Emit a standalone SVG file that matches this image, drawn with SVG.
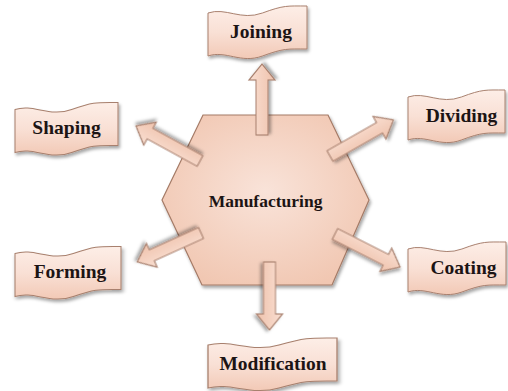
<svg xmlns="http://www.w3.org/2000/svg" width="508" height="391" viewBox="0 0 508 391">
  <defs>
    <linearGradient id="bannerFill" x1="0" y1="0" x2="0" y2="1">
      <stop offset="0" stop-color="#fdeee7"/>
      <stop offset="0.5" stop-color="#f9e0d5"/>
      <stop offset="1" stop-color="#f2c9b6"/>
    </linearGradient>
    <radialGradient id="hexFill" cx="0.5" cy="0.45" r="0.6">
      <stop offset="0" stop-color="#f9e3d9"/>
      <stop offset="1" stop-color="#f1c7b2"/>
    </radialGradient>
    <linearGradient id="arrowFill" x1="0" y1="0" x2="0" y2="1">
      <stop offset="0" stop-color="#f9dfd2"/>
      <stop offset="1" stop-color="#efc2ac"/>
    </linearGradient>
    <filter id="shadow" x="-20%" y="-20%" width="140%" height="150%">
      <feDropShadow dx="1.5" dy="2.5" stdDeviation="1.8" flood-color="#000" flood-opacity="0.35"/>
    </filter>
    <!-- wavy banner outline in a 100 x 43 box; scaled horizontally per node -->
    <path id="wave" d="M0,7 C18,1 33,15 55,7 S80,0 100,0 L100,43 C80,43 77,42 55,50 C33,58 18,44 0,50 Z"/>
  </defs>
  <style>
    .banner { fill: url(#bannerFill); stroke: #a8806e; stroke-width: 1; filter: url(#shadow); }
    .banner use { vector-effect: non-scaling-stroke; }
    .label { font-family: "Liberation Serif", "Times New Roman", serif; font-weight: bold; font-size: 19.5px; fill: #1c1414; text-anchor: middle; }
    .hub { font-size: 17.5px; }
    .hex { fill: url(#hexFill); stroke: #a47a66; stroke-width: 1.2; filter: url(#shadow); }
    .arrow { fill: url(#arrowFill); stroke: #a8806e; stroke-width: 1.1; stroke-linejoin: miter; filter: url(#shadow); }
  </style>

  <rect width="508" height="391" fill="#ffffff"/>

  <g id="manufacturing">
    <polygon class="hex" points="203,115 328,115 369,200 332,285 202,285 162,200"/>
    <text class="label hub" x="265.5" y="207">Manufacturing</text>
  </g>

  <g id="connectors">
    <!-- up: Joining -->
    <polygon class="arrow" transform="translate(262,135) rotate(-90)" points="0,-6 55,-6 55,-13 71,0 55,13 55,6 0,6"/>
    <!-- down: Modification -->
    <polygon class="arrow" transform="translate(269.5,262) rotate(90)" points="0,-6 52,-6 52,-13 68,0 52,13 52,6 0,6"/>
    <!-- upper left: Shaping -->
    <polygon class="arrow" transform="translate(200,161) rotate(208.7)" points="0,-6 57,-6 57,-13 73,0 57,13 57,6 0,6"/>
    <!-- upper right: Dividing -->
    <polygon class="arrow" transform="translate(330,156) rotate(-29.7)" points="0,-6 57,-6 57,-13 73,0 57,13 57,6 0,6"/>
    <!-- lower left: Forming -->
    <polygon class="arrow" transform="translate(201,233) rotate(155.6)" points="0,-6 54,-6 54,-13 70,0 54,13 54,6 0,6"/>
    <!-- lower right: Coating -->
    <polygon class="arrow" transform="translate(335,234) rotate(26.9)" points="0,-6 57,-6 57,-13 73,0 57,13 57,6 0,6"/>
  </g>

  <g id="joining">
    <g class="banner" transform="translate(208,6) scale(0.99,1)"><use href="#wave"/></g>
    <text class="label" x="261" y="37.5">Joining</text>
  </g>

  <g id="shaping">
    <g class="banner" transform="translate(15,102.5) scale(1.03,1)"><use href="#wave"/></g>
    <text class="label" x="66.5" y="134">Shaping</text>
  </g>

  <g id="dividing">
    <g class="banner" transform="translate(408,90) scale(0.97,1)"><use href="#wave"/></g>
    <text class="label" x="461.5" y="121.5">Dividing</text>
  </g>

  <g id="forming">
    <g class="banner" transform="translate(15,246.5) scale(1.06,1)"><use href="#wave"/></g>
    <text class="label" x="70" y="278">Forming</text>
  </g>

  <g id="coating">
    <g class="banner" transform="translate(408,242) scale(0.98,1)"><use href="#wave"/></g>
    <text class="label" x="463.5" y="273.5">Coating</text>
  </g>

  <g id="modification">
    <g class="banner" transform="translate(208,338) scale(1.29,1)"><use href="#wave"/></g>
    <text class="label" x="273" y="369.5">Modification</text>
  </g>
</svg>
